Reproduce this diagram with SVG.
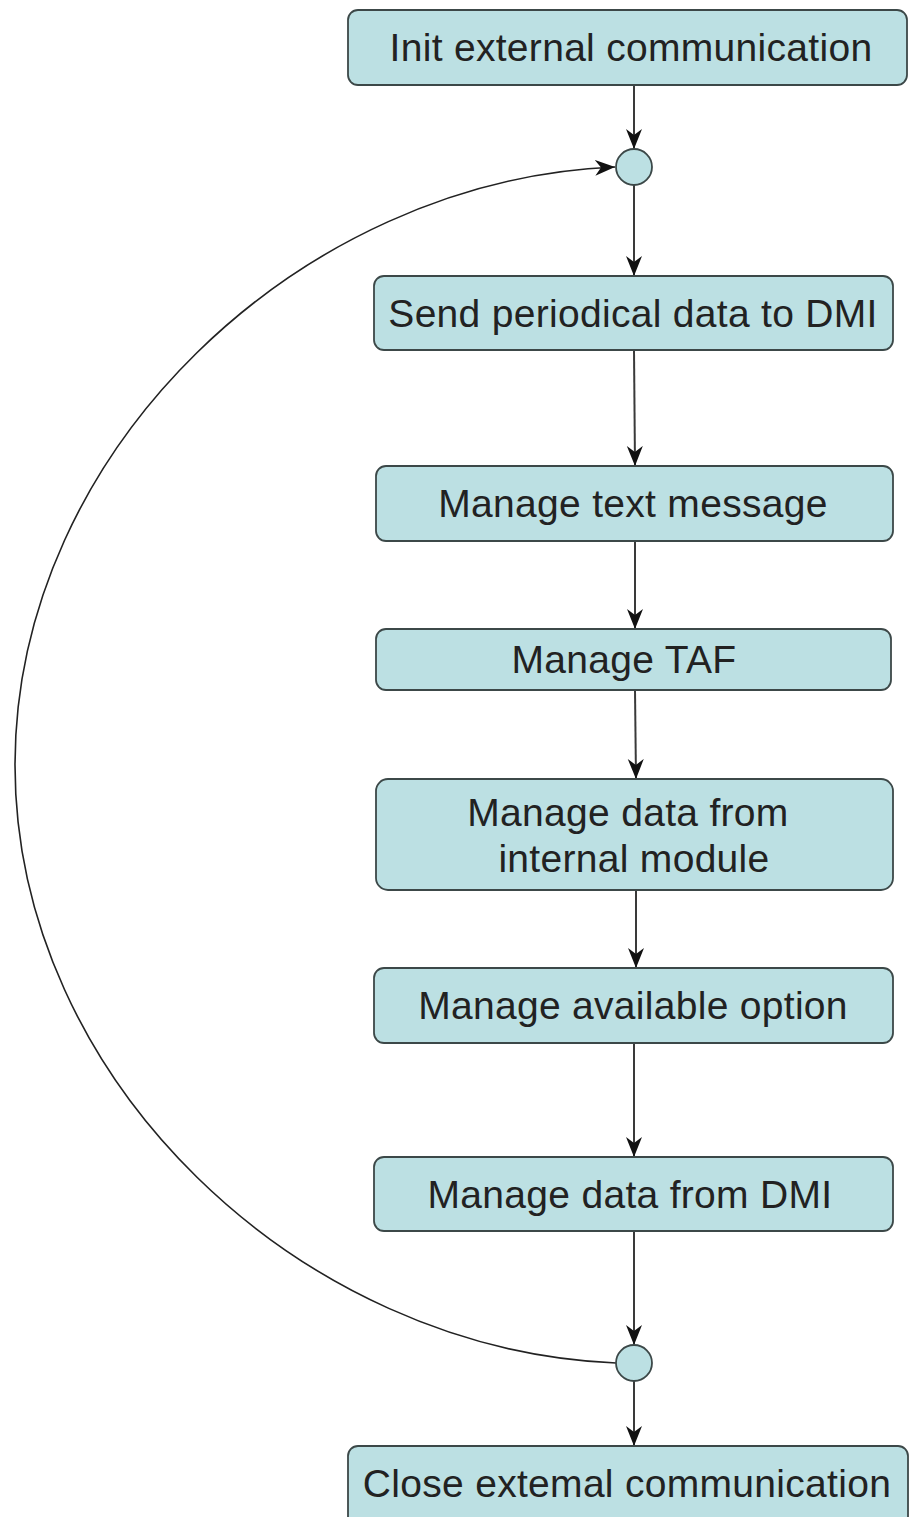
<svg xmlns="http://www.w3.org/2000/svg" width="910" height="1517" viewBox="0 0 910 1517">
<style>
.box{fill:#bce0e3;stroke:#3c4848;stroke-width:1.8}
.lbl{font-family:"Liberation Sans",Arial,sans-serif;font-size:39px;letter-spacing:0.3px;fill:#222;text-anchor:middle}
.edge{fill:none;stroke:#3a3a3a;stroke-width:2}
.curve{fill:none;stroke:#222;stroke-width:1.6}
</style>
<defs>
<marker id="ah" markerUnits="userSpaceOnUse" markerWidth="22" markerHeight="22" viewBox="0 0 22 22" refX="20" refY="11" orient="auto">
<path d="M0,3 L20,11 L0,19 L6,11 z" fill="#111"/>
</marker>
</defs>
<rect width="910" height="1517" fill="#fff"/>
<g id="connectors">
<line class="edge" x1="634" y1="85" x2="634" y2="149" marker-end="url(#ah)"/>
<line class="edge" x1="634" y1="185" x2="634" y2="276" marker-end="url(#ah)"/>
<line class="edge" x1="634" y1="350" x2="635" y2="466" marker-end="url(#ah)"/>
<line class="edge" x1="635" y1="541" x2="635" y2="629" marker-end="url(#ah)"/>
<line class="edge" x1="635" y1="690" x2="636" y2="779" marker-end="url(#ah)"/>
<line class="edge" x1="636" y1="890" x2="636" y2="968" marker-end="url(#ah)"/>
<line class="edge" x1="634" y1="1043" x2="634" y2="1157" marker-end="url(#ah)"/>
<line class="edge" x1="634" y1="1231" x2="634" y2="1345" marker-end="url(#ah)"/>
<line class="edge" x1="634" y1="1381" x2="634" y2="1446" marker-end="url(#ah)"/>
<path class="curve" d="M616,1363 C300,1350 15,1080 15,765 C15,450 300,180 615,167" marker-end="url(#ah)"/>
</g>
<g id="n-init"><rect class="box" x="348" y="10" width="559" height="75" rx="10"/><text class="lbl" x="631" y="61">Init external communication</text></g>
<g id="n-merge"><circle class="box" cx="634" cy="167" r="18"/></g>
<g id="n-send"><rect class="box" x="374" y="276" width="519" height="74" rx="10"/><text class="lbl" x="633" y="327">Send periodical data to DMI</text></g>
<g id="n-text"><rect class="box" x="376" y="466" width="517" height="75" rx="10"/><text class="lbl" x="633" y="517">Manage text message</text></g>
<g id="n-taf"><rect class="box" x="376" y="629" width="515" height="61" rx="10"/><text class="lbl" x="624" y="673">Manage TAF</text></g>
<g id="n-internal"><rect class="box" x="376" y="779" width="517" height="111" rx="12"/><text class="lbl" x="628" y="826">Manage data from</text><text class="lbl" x="634" y="872">internal module</text></g>
<g id="n-option"><rect class="box" x="374" y="968" width="519" height="75" rx="10"/><text class="lbl" x="633" y="1019">Manage available option</text></g>
<g id="n-dmi"><rect class="box" x="374" y="1157" width="519" height="74" rx="10"/><text class="lbl" x="630" y="1208">Manage data from DMI</text></g>
<g id="n-split"><circle class="box" cx="634" cy="1363" r="18"/></g>
<g id="n-close"><rect class="box" x="348" y="1446" width="560" height="90" rx="10"/><text class="lbl" x="627" y="1497">Close extemal communication</text></g>
</svg>
